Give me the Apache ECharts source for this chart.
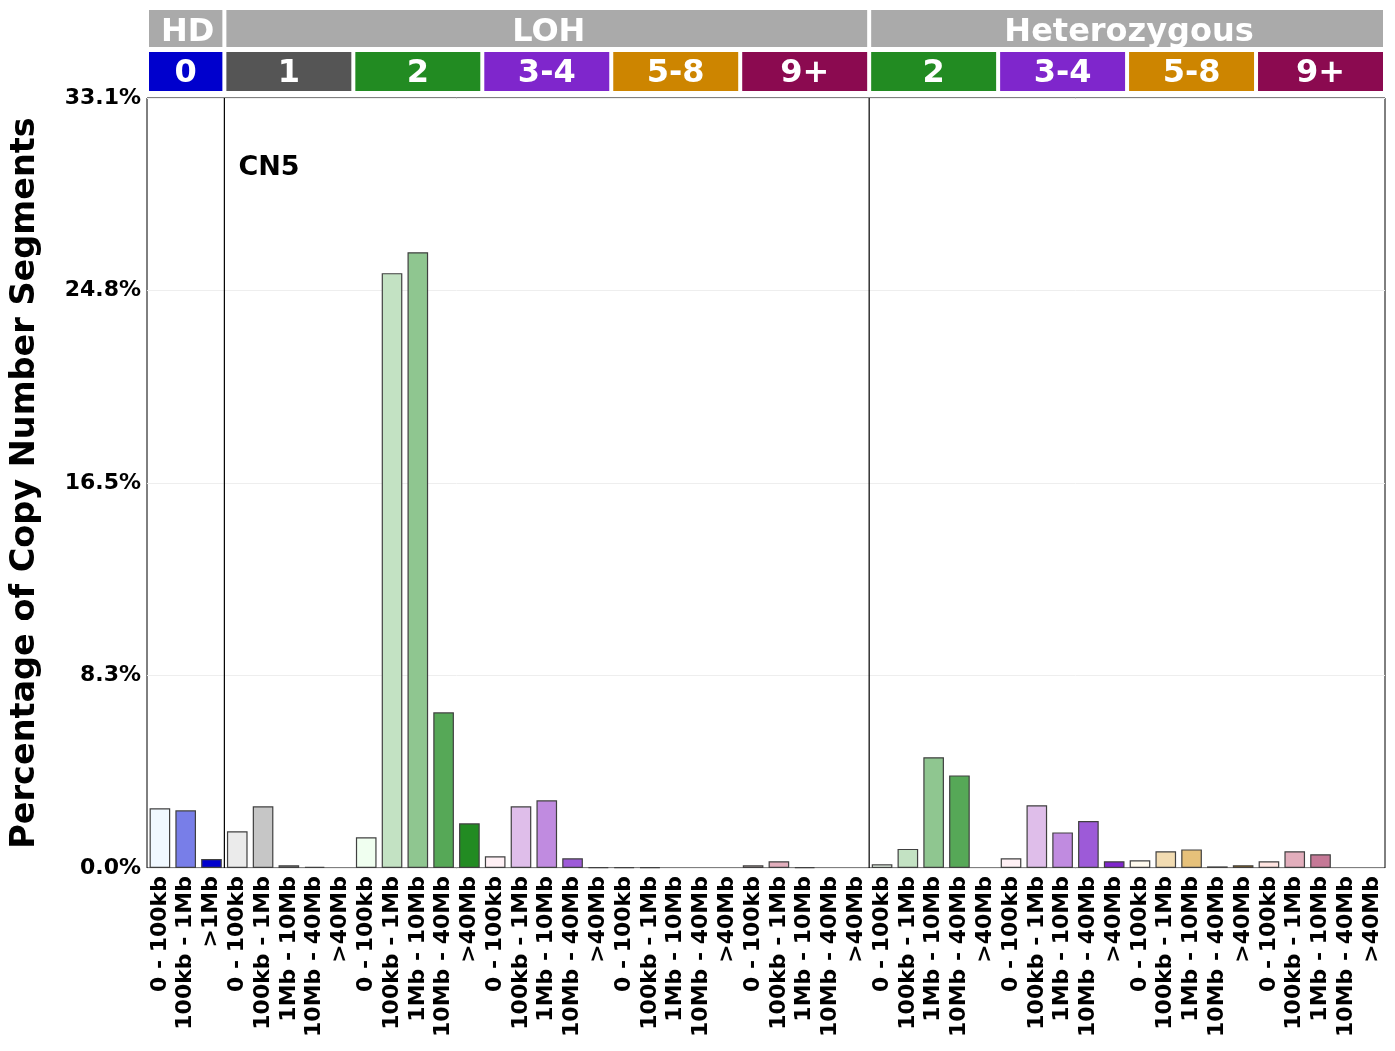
<!DOCTYPE html>
<html><head><meta charset="utf-8">
<script src="https://cdn.jsdelivr.net/npm/echarts@6/dist/echarts.min.js"></script>
<style>html,body{margin:0;padding:0;background:#fff}#c{width:1395px;height:1051px}</style>
</head><body><div id="c"></div>
<script>
const sizeLabels5 = ['0 - 100kb','100kb - 1Mb','1Mb - 10Mb','10Mb - 40Mb','>40Mb'];
const hdLabels = ['0 - 100kb','100kb - 1Mb','>1Mb'];
const categories = hdLabels.concat(sizeLabels5, sizeLabels5, sizeLabels5, sizeLabels5, sizeLabels5,
                                   sizeLabels5, sizeLabels5, sizeLabels5, sizeLabels5);
const hdValues   = [2.57, 2.48, 0.39];
const loh1Values = [1.58, 2.65, 0.12, 0.05, 0];
const loh2Values = [1.32, 25.57, 26.47, 6.69, 1.92];
const loh34Values = [0.50, 2.65, 2.91, 0.42, 0.03];
const loh58Values = [0.03, 0.03, 0, 0, 0];
const loh9Values = [0.12, 0.29, 0.04, 0, 0];
const het2Values = [0.16, 0.82, 4.76, 3.98, 0];
const het34Values = [0.42, 2.70, 1.53, 2.02, 0.29];
const het58Values = [0.33, 0.72, 0.80, 0.07, 0.12];
const het9Values = [0.29, 0.72, 0.59, 0, 0];
const yTickLabels = ['0.0%','8.3%','16.5%','24.8%','33.1%'];
const yMax = 33.1;
const topGroups = [{name:'HD', n:3}, {name:'LOH', n:25}, {name:'Heterozygous', n:20}];
const cnGroups = ['0','1','2','3-4','5-8','9+','2','3-4','5-8','9+'];
const cnCounts = [3,5,5,5,5,5,5,5,5,5];
const panelLabel = 'CN5';

const values = [].concat(hdValues, loh1Values, loh2Values, loh34Values, loh58Values, loh9Values,
                         het2Values, het34Values, het58Values, het9Values);

const palettes = {
  '0': ['#f0f8ff','#787ee8','#0000cd'],
  '1': ['#ebebeb','#c6c6c6','#a4a4a4','#7e7e7e','#555555'],
  '2': ['#f0fff0','#c3e2c3','#8fc690','#56a857','#228b22'],
  '3-4': ['#fff0f5','#dfbeea','#c08be0','#9d5ad8','#7f26cc'],
  '5-8': ['#fffaee','#f2dcb2','#e6c17a','#d9a540','#cd8500'],
  '9+': ['#ffe4e1','#e2aebc','#c57896','#a84370','#8b0a50']
};
const headerColors = {'0':'#0000cd','1':'#555555','2':'#228b22','3-4':'#7f26cc','5-8':'#cd8500','9+':'#8b0a50'};

const barColors = [];
cnGroups.forEach((g,gi)=>{ for(let k=0;k<cnCounts[gi];k++) barColors.push(palettes[g][k]); });

const data = values.map((v,i)=>({value:v, itemStyle:{color:barColors[i], borderWidth: v>0 ? 1.2 : 0}}));

const chart = echarts.init(document.getElementById('c'));
const FONT = 'DejaVu Sans';
chart.setOption({
  animation:false,
  grid:{left:146, top:98, right:10, bottom:183, show:true, borderColor:'#000', borderWidth:1, backgroundColor:'transparent'},
  xAxis:{type:'category', data:categories,
    axisLine:{show:false}, axisTick:{show:false},
    axisLabel:{interval:0, rotate:90, fontFamily:FONT, fontWeight:'bold', fontSize:22, color:'#000', margin:8}},
  yAxis:{type:'value', min:0, max:yMax, interval:yMax/4,
    name:'Percentage of Copy Number Segments', nameLocation:'middle', nameGap:105,
    nameTextStyle:{fontFamily:FONT, fontWeight:'bold', fontSize:33.5, color:'#000'},
    axisLine:{show:false}, axisTick:{show:false},
    splitLine:{lineStyle:{color:'#eeeeee', width:1}},
    axisLabel:{fontFamily:FONT, fontWeight:'bold', fontSize:22, color:'#000', margin:6,
      formatter:(v)=>yTickLabels[Math.round(v/(yMax/4))]}},
  series:[{type:'bar', data:data, barCategoryGap:'20%',
    itemStyle:{borderColor:'#404040', borderWidth:1.2}}]
});

function drawOverlay(){
  const c0 = chart.convertToPixel({xAxisIndex:0}, 0);
  const c1 = chart.convertToPixel({xAxisIndex:0}, 1);
  const bw = c1 - c0;
  const left0 = c0 - bw/2;
  const yTop = chart.convertToPixel({yAxisIndex:0}, yMax);
  const yBot = chart.convertToPixel({yAxisIndex:0}, 0);
  const els = [];
  let idx = 0;
  topGroups.forEach((g,gi)=>{
    const x0 = left0 + idx*bw, x1 = left0 + (idx+g.n)*bw;
    els.push({type:'rect', shape:{x:x0+2, y:10, width:x1-x0-4, height:37}, style:{fill:'#aaaaaa'}});
    els.push({type:'text', x:(x0+x1)/2 + 2, y:33, style:{text:g.name, fill:'#fff', font:'bold 32px "DejaVu Sans"', align:'center', verticalAlign:'middle'}});
    if(gi>0){
      els.push({type:'line', shape:{x1:x0, y1:yTop, x2:x0, y2:yBot}, style:{stroke:'#000', lineWidth:1.2}});
    }
    idx += g.n;
  });
  idx = 0;
  cnGroups.forEach((g,gi)=>{
    const x0 = left0 + idx*bw, x1 = left0 + (idx+cnCounts[gi])*bw;
    els.push({type:'rect', shape:{x:x0+2, y:52, width:x1-x0-4, height:39}, style:{fill:headerColors[g]}});
    els.push({type:'text', x:(x0+x1)/2, y:74, style:{text:g, fill:'#fff', font:'bold 32px "DejaVu Sans"', align:'center', verticalAlign:'middle'}});
    idx += cnCounts[gi];
  });
  els.push({type:'text', x:left0 + 3*bw + 14, y:168, style:{text:panelLabel, fill:'#000', font:'bold 27px "DejaVu Sans"', align:'left', verticalAlign:'middle'}});
  chart.setOption({graphic:{elements:els}});
}
drawOverlay();
</script></body></html>
